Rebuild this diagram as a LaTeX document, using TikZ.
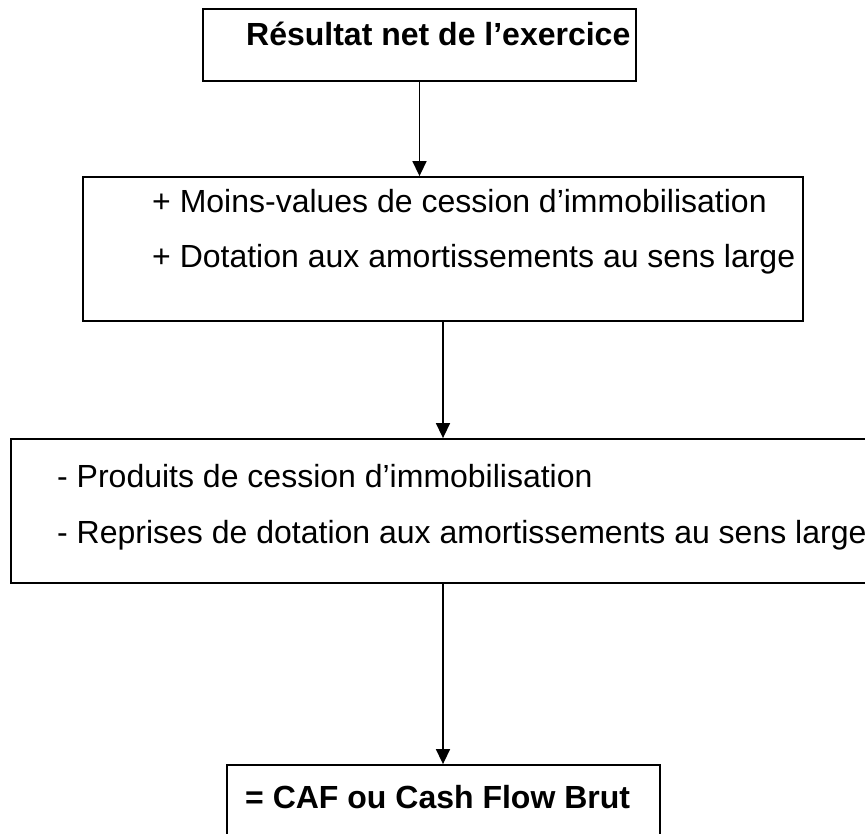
\documentclass[tikz,border=0pt]{standalone}
\usepackage{fontspec}
\setmainfont{Liberation Sans}
\usetikzlibrary{arrows.meta}
\begin{document}
\begin{tikzpicture}[x=1pt,y=-1pt,
  box/.style={draw, line width=1.8pt, inner sep=0pt},
  txt/.style={anchor=base west, inner sep=0pt, font=\fontsize{32}{38}\selectfont},
  btxt/.style={txt, font=\fontsize{32}{38}\selectfont\bfseries},
  flow/.style={line width=1.5pt, -{Triangle[width=14pt,length=15pt]}}]
\useasboundingbox (0,0) rectangle (865,833);
\fill[white] (0,0) rectangle (865,833);
\clip (0,0) rectangle (865,833);
\node[box, minimum width=433pt, minimum height=72pt] (b1) at (419.5,45) {};
\node[box, minimum width=720pt, minimum height=144pt] (b2) at (443,249) {};
\node[box, minimum width=864pt, minimum height=144pt] (b3) at (443,511) {};
\node[box, minimum width=433pt, minimum height=120pt] (b4) at (443.5,825) {};
\node[btxt] (t1) at (246,45) {Résultat net de l’exercice};
\node[txt] (t2a) at (152,212) {+ Moins-values de cession d’immobilisation};
\node[txt] (t2b) at (152,267) {+ Dotation aux amortissements au sens large};
\node[txt] (t3a) at (57,487) {- Produits de cession d’immobilisation};
\node[txt] (t3b) at (57,543) {- Reprises de dotation aux amortissements au sens large};
\node[btxt] (t4) at (245,808) {= CAF ou Cash Flow Brut};
\draw[flow] (b1.south) -- (b1.south |- b2.north);
\draw[flow] (b2.south) -- (b2.south |- b3.north);
\draw[flow] (b3.south) -- (b3.south |- b4.north);
\end{tikzpicture}
\end{document}
